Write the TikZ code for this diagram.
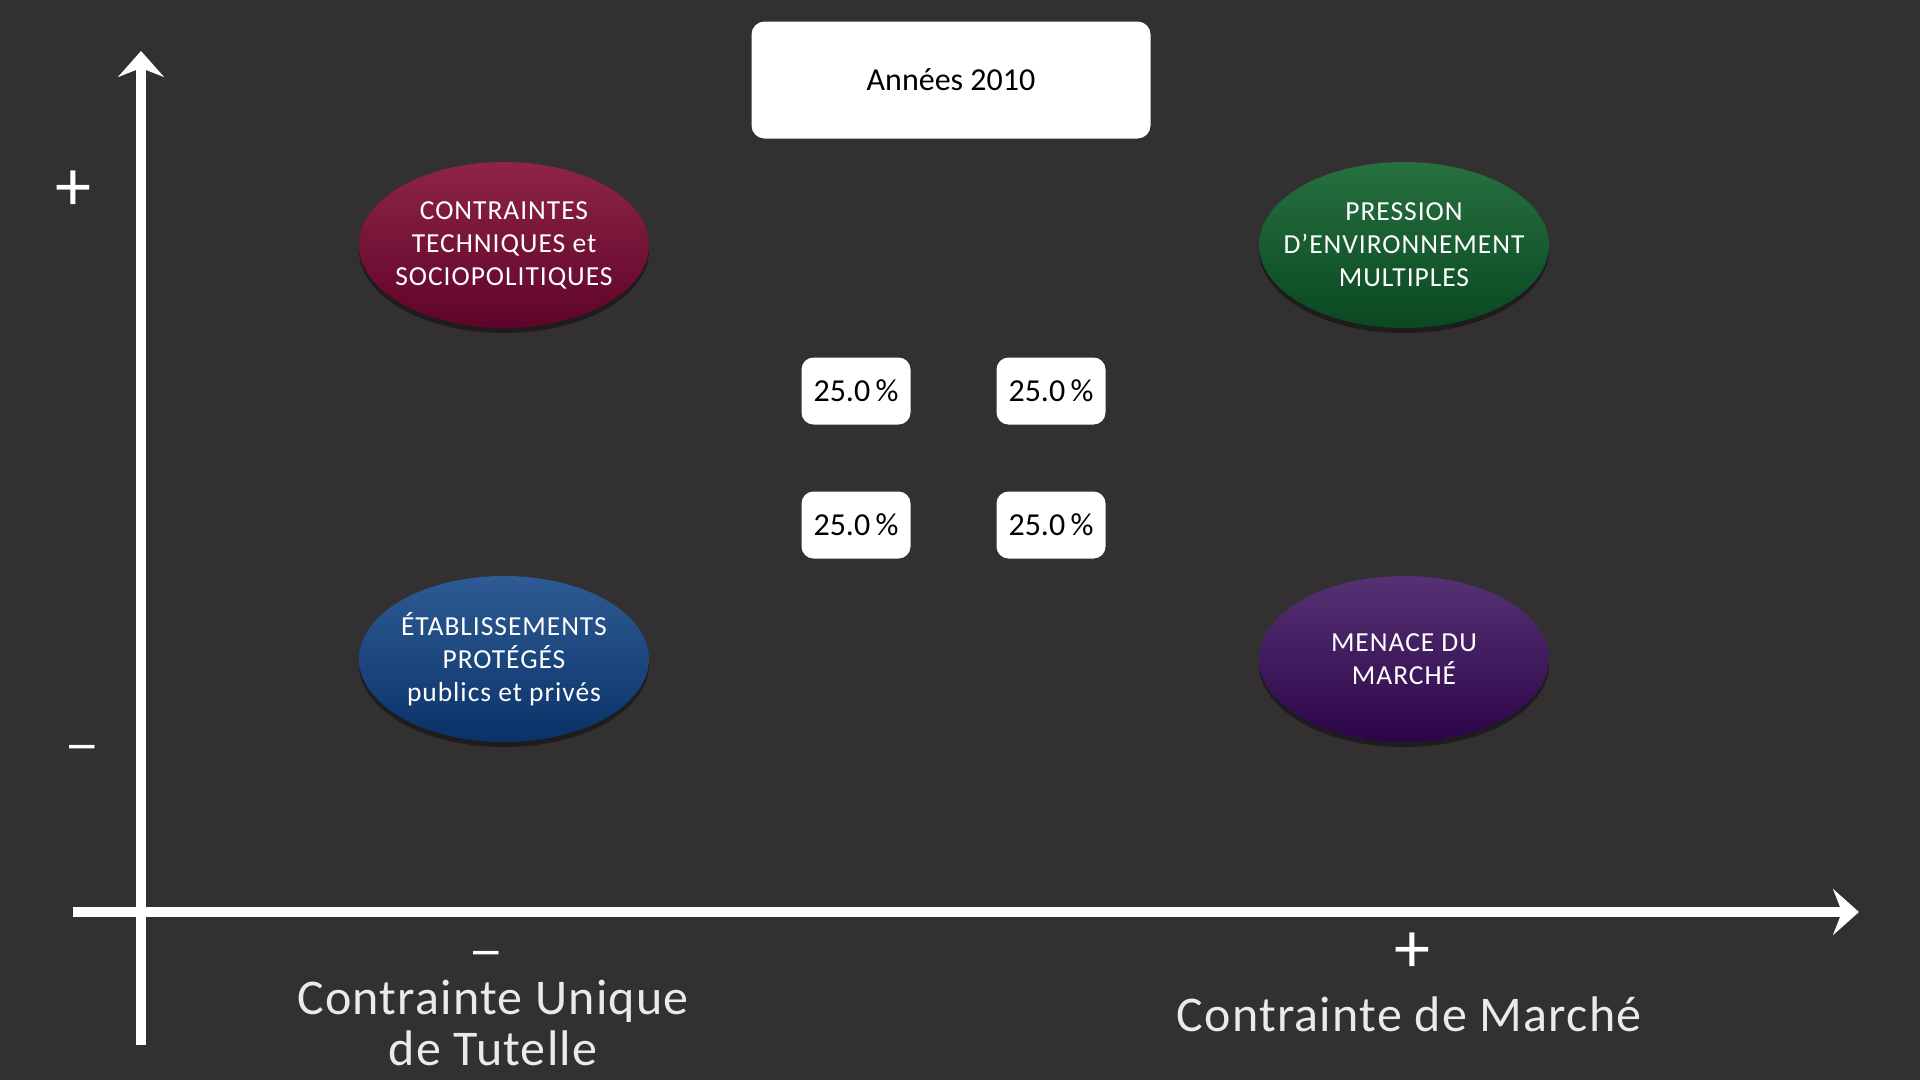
\documentclass[tikz,border=0pt]{standalone}
\usepackage{fontspec}
\setmainfont{Carlito}
\usetikzlibrary{arrows.meta,shapes.geometric,shadows}
\definecolor{bg}{HTML}{323031}
\definecolor{axiswhite}{HTML}{FFFFFF}
\definecolor{labelgray}{HTML}{EAEAEA}
\definecolor{redT}{HTML}{8E2448}\definecolor{redM}{HTML}{7C0A32}\definecolor{redB}{HTML}{5E0428}
\definecolor{grnT}{HTML}{26703F}\definecolor{grnM}{HTML}{0F5C2C}\definecolor{grnB}{HTML}{0A4822}
\definecolor{bluT}{HTML}{2E5B94}\definecolor{bluM}{HTML}{0E4082}\definecolor{bluB}{HTML}{0A3268}
\definecolor{purT}{HTML}{553274}\definecolor{purM}{HTML}{3A0B5C}\definecolor{purB}{HTML}{2C0548}
\tikzset{
  axisline/.style={draw=axiswhite,line width=10pt,-{Stealth[length=26pt,width=46pt,inset=9pt]}},
  oval/.style={ellipse,minimum width=290pt,minimum height=166pt,inner xsep=-45pt,inner ysep=-10pt,
     align=center,text=white,font=\fontsize{27.5}{33}\selectfont\addfontfeatures{LetterSpace=3.5},
     drop shadow={shadow xshift=0pt,shadow yshift=-5pt,opacity=0.4,fill=black}},
  pctbox/.style={fill=white,rounded corners=12pt,minimum width=109pt,minimum height=67pt,
     inner sep=0pt,font=\fontsize{32}{36}\selectfont,text=black},
  titlebox/.style={fill=white,rounded corners=13pt,minimum width=399pt,minimum height=117pt,
     inner sep=0pt,font=\fontsize{32}{36}\selectfont,text=black},
  sign/.style={text=white,font=\fontsize{72}{72}\selectfont,inner sep=0pt},
  minussign/.style={text=white,font=\fontsize{46}{46}\selectfont,inner sep=0pt},
  axlabel/.style={text=labelgray,align=center,
     font=\fontsize{50}{51}\selectfont\addfontfeatures{LetterSpace=2.5},inner sep=0pt},
}
\begin{document}
\begin{tikzpicture}[x=1pt,y=-1pt]
\fill[bg] (0,0) rectangle (1920,1080);
\useasboundingbox (0,0) rectangle (1920,1080);
% axes
\coordinate (yb) at (141,1045);
\coordinate (yt) at (141,51);
\coordinate (xl) at (73,912);
\coordinate (xr) at (1859,912);
\draw[axisline] (yb) -- (yt);
\draw[axisline] (xl) -- (xr);
% signs
\node[sign] (yplus) at (73,191) {+};
\node[minussign] (yminus) at (82,754) {\scalebox{1.55}[1.2]{–}};
\node[minussign] (xminus) at (486,960) {\scalebox{1.55}[1.2]{–}};
\node[sign] (xplus) at (1412,953) {+};
% axis labels
\node[axlabel] (xlabL) at (493,1023) {Contrainte Unique\\de Tutelle};
\node[axlabel] (xlabR) at (1409,1014) {Contrainte de Marché};
% title
\node[titlebox] (title) at (951,80) {Années 2010};
% ellipses
\node[oval,top color=redT,middle color=redM,bottom color=redB] (red) at (504,245)
  {CONTRAINTES\\TECHNIQUES et\\SOCIOPOLITIQUES};
\node[oval,top color=grnT,middle color=grnM,bottom color=grnB] (green) at (1404,245)
  {PRESSION\\D’ENVIRONNEMENT\\MULTIPLES};
\node[oval,top color=bluT,middle color=bluM,bottom color=bluB] (blue) at (504,659)
  {ÉTABLISSEMENTS\\PROTÉGÉS\\publics et privés};
\node[oval,top color=purT,middle color=purM,bottom color=purB] (purple) at (1404,659)
  {MENACE DU\\MARCHÉ};
% percentages
\node[pctbox] (p1) at (856,391) {25.0\,\%};
\node[pctbox] (p2) at (1051,391) {25.0\,\%};
\node[pctbox] (p3) at (856,525) {25.0\,\%};
\node[pctbox] (p4) at (1051,525) {25.0\,\%};
\end{tikzpicture}
\end{document}
